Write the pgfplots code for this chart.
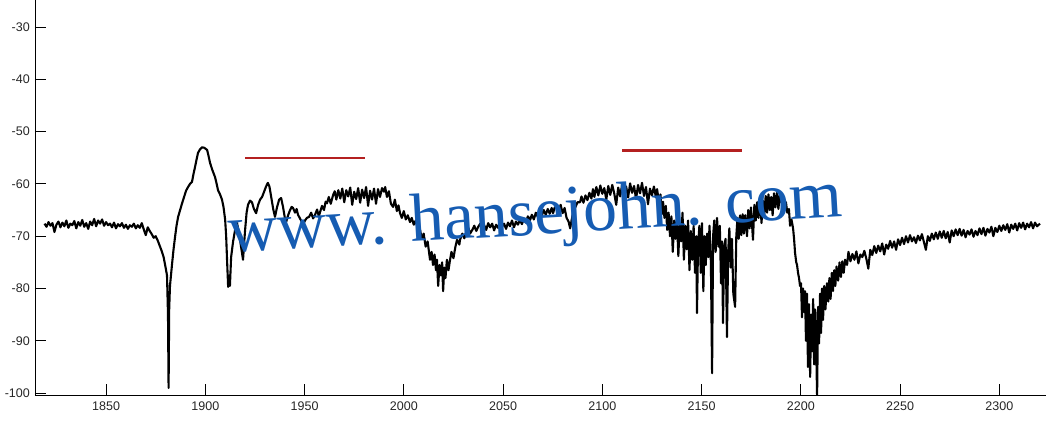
\documentclass[border=0pt]{standalone}
\usepackage{pgfplots}
\pgfplotsset{compat=1.18}
\usepackage{fontspec}
\setmainfont{Liberation Sans}
\newfontfamily\wmfont{Liberation Serif}
\definecolor{wm}{RGB}{22,92,178}
\definecolor{rl}{RGB}{180,32,32}
\begin{document}
\begin{tikzpicture}
\path[use as bounding box] (-35pt,-27pt) rectangle (1026pt,395pt);
\begin{axis}[
  scale only axis, width=1011pt, height=395pt,
  xmin=1814.2, xmax=2323.5, ymin=-100.36, ymax=-24.84,
  axis x line=bottom, axis y line=left,
  axis line style={-, line width=0.9pt, black},
  tick align=inside, major tick length=11pt,
  tick style={line width=0.9pt, black},
  xtick={1850,1900,...,2300}, ytick={-100,-90,...,-30},
  /pgf/number format/assume math mode=true,
  /pgf/number format/set thousands separator={},
  ticklabel style={font=\fontsize{12.5}{12.5}\selectfont, text=black!85},
  yticklabel style={inner sep=0pt, xshift=-5pt},
  xticklabel style={inner sep=0pt, yshift=-6.5pt},
]
\addplot[black, line width=2.1pt, line join=round] table {
x y
1819 -67.6
1820 -68.2
1821 -67.3
1822 -68.0
1823 -67.5
1824 -69.2
1825 -67.8
1826 -67.2
1827 -68.3
1828 -67.4
1829 -68.1
1830 -67.0
1831 -68.4
1832 -67.6
1833 -67.9
1834 -67.1
1835 -68.5
1836 -67.3
1837 -68.0
1838 -66.9
1839 -68.2
1840 -67.5
1841 -68.6
1842 -67.2
1843 -67.9
1844 -66.7
1845 -68.1
1846 -67.0
1847 -67.6
1848 -66.8
1849 -68.0
1850 -67.3
1851 -67.9
1852 -67.6
1853 -68.3
1854 -67.4
1855 -68.5
1856 -67.7
1857 -68.1
1858 -67.5
1859 -68.4
1860 -67.8
1861 -68.6
1862 -67.9
1863 -68.2
1864 -67.6
1865 -68.5
1866 -67.9
1867 -68.4
1868 -67.5
1869 -68.7
1870 -69.8
1871 -68.3
1872 -69.0
1873 -69.6
1874 -70.3
1875 -70.0
1876 -70.8
1877 -71.8
1878 -72.8
1879 -74.0
1880 -76.0
1880.7 -77.5
1881.2 -85
1881.5 -99.0
1881.8 -84
1882.2 -79.5
1883.2 -75.5
1884 -72.5
1884.8 -70.0
1885.5 -68.0
1886.3 -66.3
1887.3 -65.0
1888.3 -63.7
1889.3 -62.5
1890.3 -61.3
1891.3 -60.6
1892.3 -60.0
1893.3 -59.6
1894 -58.2
1894.8 -56.8
1895.5 -55.5
1896.3 -54.1
1897.3 -53.4
1898.4 -53.0
1899.5 -53.1
1900.9 -53.5
1901.6 -54.6
1902.4 -56.0
1903.5 -57.3
1904.9 -58.7
1905.6 -59.8
1906.4 -61.2
1907.4 -62.0
1908.4 -63.0
1909.2 -64.5
1910 -66.9
1910.5 -70
1911 -75.0
1911.5 -79.7
1912 -77.5
1912.4 -79.5
1913 -74.0
1914 -71.0
1915 -68.8
1916 -67.5
1917 -69.5
1918 -72.0
1919 -74.5
1920 -69.0
1920.8 -65.5
1921.5 -64.0
1922.5 -63.2
1923.5 -63.5
1924.5 -64.8
1925.6 -65.6
1926.6 -64.0
1927.6 -63.0
1928.6 -62.5
1929.6 -61.5
1930.6 -60.5
1931.5 -59.8
1932.3 -60.5
1933.2 -62.5
1934.2 -64.8
1935.1 -66.3
1936.1 -64.5
1937.2 -63.0
1938.2 -62.7
1939.2 -64.5
1940.2 -66.8
1940.7 -67.3
1941.7 -66.0
1942.7 -65.0
1943.5 -64.4
1944.2 -64.6
1945.2 -65.5
1946.0 -64.8
1946.7 -65.9
1947.7 -66.6
1948.5 -67.2
1949.2 -67.9
1950.2 -67.0
1951.2 -66.5
1952.3 -66.3
1953.3 -65.5
1954.3 -66.6
1955.3 -65.9
1956.3 -64.9
1957.2 -66.2
1957.8 -65.4
1958.8 -64.2
1959.8 -65.0
1960.6 -63.4
1961.3 -63.7
1962.2 -62.5
1963.2 -63.8
1964.4 -62.1
1965.2 -61.4
1966.0 -63.0
1967.0 -61.2
1968 -62.8
1969 -60.9
1970 -63.5
1971 -61.2
1972 -62.4
1973 -60.7
1974 -64.0
1975 -61.5
1976 -62.9
1977 -60.8
1978 -63.6
1979 -61.1
1980 -62.7
1981 -60.6
1982 -64.2
1983 -61.3
1984 -63.0
1985 -60.9
1986 -63.8
1987 -61.0
1988 -62.5
1989 -60.8
1990 -61.5
1990.6 -60.6
1991.5 -62.5
1992.5 -61.4
1993.5 -63.8
1994.6 -64.4
1995.5 -63.0
1996.5 -65.2
1997.3 -64.1
1998.1 -65.6
1999 -66.5
2000 -65.2
2001 -66.8
2002 -66.0
2003.1 -67.3
2004 -66.5
2005 -67.8
2006 -67.0
2007 -68.5
2008.2 -68.8
2009 -70.5
2010 -69.5
2011 -72.0
2012 -71.0
2013.2 -74.5
2014 -73.0
2014.7 -75.5
2015.5 -73.5
2016.2 -76.5
2016.7 -74.5
2017.3 -79.5
2018 -75.5
2018.7 -77.5
2019.3 -75.0
2019.8 -80.5
2020.4 -76.0
2021.0 -78.0
2021.7 -74.5
2022.5 -76.5
2023.3 -74.5
2024 -73.0
2025 -74.2
2026 -72.0
2026.8 -70.7
2028 -71.6
2028.3 -70.7
2029.5 -69.5
2030.5 -70.4
2031.5 -69.2
2032.5 -68.4
2033.4 -69.5
2034.5 -68.8
2035.5 -68.0
2036.5 -69.0
2037.5 -68.2
2038.5 -67.6
2039.5 -68.6
2040.5 -67.9
2041.5 -68.8
2042.5 -67.5
2043.5 -68.3
2044.5 -67.6
2045.5 -68.9
2046.5 -67.8
2047.5 -68.4
2048.5 -67.3
2049.5 -68.2
2050.5 -67.6
2051.5 -68.6
2052.5 -67.4
2053.5 -68.1
2054.5 -67.0
2055.5 -68.3
2056.5 -67.2
2057.5 -67.8
2058.5 -66.9
2059.5 -67.7
2060.5 -66.6
2061.5 -67.4
2062.5 -66.2
2063.6 -66.9
2064.5 -65.9
2065.5 -66.8
2066.5 -65.5
2067.5 -66.3
2068.6 -65.4
2069.5 -66.1
2070.5 -65.0
2071.5 -65.9
2072.5 -64.8
2073.5 -65.7
2074.5 -64.6
2075.2 -65.6
2076 -64.5
2077.2 -64.4
2078 -65.3
2079 -64.0
2080 -65.6
2081 -64.6
2082 -66.5
2083 -67.2
2083.8 -68.5
2084.6 -66.8
2085.5 -65.0
2086.5 -64.4
2087.5 -63.5
2088.8 -63.5
2089.5 -62.4
2090.5 -63.6
2091.5 -62.2
2092.5 -63.1
2093.5 -61.7
2094.5 -62.8
2095.3 -61.0
2096 -62.5
2097 -60.6
2098 -62.2
2099 -60.3
2100 -61.9
2101 -60.8
2102 -63.0
2103 -60.4
2104 -62.1
2105 -60.2
2106 -61.8
2107 -64.0
2108 -60.7
2109 -62.4
2110 -60.1
2111 -61.9
2112 -60.5
2113 -62.6
2114 -59.9
2115 -61.7
2116 -60.4
2117 -62.9
2118 -60.2
2119 -61.8
2120 -59.8
2121 -62.3
2122 -60.6
2123 -63.9
2124 -60.9
2125 -62.2
2126 -60.5
2127 -62.6
2127.6 -61.0
2128.5 -63.5
2129.3 -62.0
2130 -65.8
2130.6 -63.4
2131.3 -66.5
2132 -64.2
2132.7 -68.8
2133.4 -65.5
2134.1 -70.0
2134.8 -66.2
2135.5 -73.0
2136.2 -67.0
2136.9 -70.5
2137.6 -66.8
2138.3 -73.8
2139 -67.5
2139.7 -71.0
2140.4 -65.5
2141.1 -74.5
2141.8 -68.0
2142.5 -72.5
2143.2 -67.0
2143.9 -76.5
2144.6 -69.0
2145.3 -74.5
2146 -68.0
2146.7 -77.0
2147.3 -70.0
2147.7 -84.7
2148.2 -72.0
2148.9 -68.0
2149.6 -77.0
2150.2 -67.5
2150.9 -80.5
2151.5 -70.0
2152.1 -75.5
2152.8 -69.5
2153.4 -74.0
2154 -68.0
2154.7 -75.0
2155.3 -96.2
2155.8 -70.0
2156.4 -67.0
2157.1 -73.0
2157.8 -66.5
2158.5 -72.0
2159.2 -68.0
2159.8 -79.0
2160.3 -71.0
2160.8 -86.6
2161.4 -72.0
2162.1 -70.5
2162.8 -89.3
2163.4 -73.0
2164 -68.5
2164.7 -76.0
2165.3 -70.5
2166 -81.0
2166.9 -83.5
2167.5 -70.0
2168.1 -66.5
2168.7 -70.5
2169.4 -66.0
2170 -69.8
2170.7 -65.8
2171.3 -69.5
2172 -66.0
2172.9 -70.0
2173.5 -65.0
2174.2 -68.5
2174.9 -64.5
2175.9 -70.7
2176.6 -64.0
2177.3 -67.0
2178 -63.5
2178.7 -66.5
2179.5 -62.8
2180.2 -67.5
2180.9 -63.2
2181.6 -65.8
2182.3 -62.3
2183 -65.5
2183.7 -62.0
2184.4 -65.0
2185.1 -62.5
2185.8 -66.0
2186.5 -61.8
2187.2 -64.5
2188 -61.7
2188.7 -64.8
2189.5 -62.0
2190.2 -63.5
2191 -62.8
2191.8 -64.2
2192.5 -63.5
2193.2 -65.5
2194 -64.8
2194.6 -68.0
2195.3 -66.8
2196.1 -68.5
2196.6 -70.5
2197.1 -73.2
2197.7 -75.0
2198.1 -75.5
2198.6 -77.0
2199.1 -78.0
2199.6 -79.5
2200.1 -79.0
2200.6 -85.5
2201.1 -80.0
2201.6 -84.5
2202.1 -80.5
2202.6 -90.0
2203.1 -81.0
2203.6 -95.0
2204.1 -83.0
2204.7 -96.9
2205.2 -85.0
2205.7 -92.0
2206.2 -82.0
2206.7 -94.5
2207.2 -84.0
2207.7 -90.0
2208.2 -100.7
2208.7 -83.5
2209.2 -90.5
2209.7 -81.0
2210.2 -88.5
2210.7 -80.0
2211.2 -86.0
2211.8 -79.5
2212.4 -84.0
2213.2 -79.0
2213.8 -82.5
2214.4 -78.0
2215 -82.0
2215.6 -77.0
2216.2 -80.5
2216.8 -76.5
2217.4 -79.5
2218 -75.8
2218.8 -78.5
2219.5 -75.0
2220.2 -77.8
2220.9 -74.8
2221.6 -77.0
2222.3 -74.5
2223.3 -75.5
2224 -73.0
2225 -74.8
2226 -73.4
2227 -74.5
2228 -72.9
2229 -75.2
2230 -73.5
2231 -74.0
2232 -72.8
2233 -74.3
2234 -76.2
2235 -72.6
2236 -73.6
2237 -71.9
2238 -73.2
2239 -71.8
2240 -72.9
2241 -71.4
2242 -73.5
2243 -71.6
2244 -72.4
2245 -70.9
2246 -72.2
2247 -71.0
2248 -72.6
2249 -70.6
2250 -71.7
2251 -70.3
2252 -71.5
2253 -70.0
2254 -71.2
2255 -69.8
2256 -71.0
2257 -70.2
2258 -71.3
2259 -69.9
2260 -70.8
2261 -69.6
2262 -71.1
2263 -72.6
2264 -70.0
2265 -70.9
2266 -69.5
2267 -70.6
2268 -69.3
2269 -70.5
2270 -69.1
2271 -70.3
2272 -69.0
2273 -70.4
2274 -69.2
2275 -71.2
2276 -68.9
2277 -70.0
2278 -68.7
2279 -69.8
2280 -68.6
2281 -69.9
2282 -68.8
2283 -70.2
2284 -69.0
2285 -69.7
2286 -68.7
2287 -70.1
2288 -69.0
2289 -69.8
2290 -68.5
2291 -69.6
2292 -68.4
2293 -69.9
2294 -68.6
2295 -69.3
2296 -68.2
2297 -70.0
2298 -68.4
2299 -69.2
2300 -68.0
2301 -69.0
2302 -67.9
2303 -68.8
2304 -67.7
2305 -69.3
2306 -67.8
2307 -68.6
2308 -67.6
2309 -68.9
2310 -67.5
2311 -68.4
2312 -67.4
2313 -68.7
2314 -67.6
2315 -68.3
2316 -67.3
2317 -68.5
2318 -67.4
2319 -68.1
2320.5 -67.6
};
\addplot[rl, line width=2.2pt] coordinates {(1920,-55) (1980.5,-55)};
\addplot[rl, line width=2.2pt] coordinates {(2110,-53.6) (2170.2,-53.6)};
\node[anchor=base, rotate=3.3, text=wm, inner sep=0pt] at (axis cs:2066.6,-69.7) {\wmfont\fontsize{68}{68}\selectfont www. hansejohn. com};
\end{axis}
\end{tikzpicture}
\end{document}
